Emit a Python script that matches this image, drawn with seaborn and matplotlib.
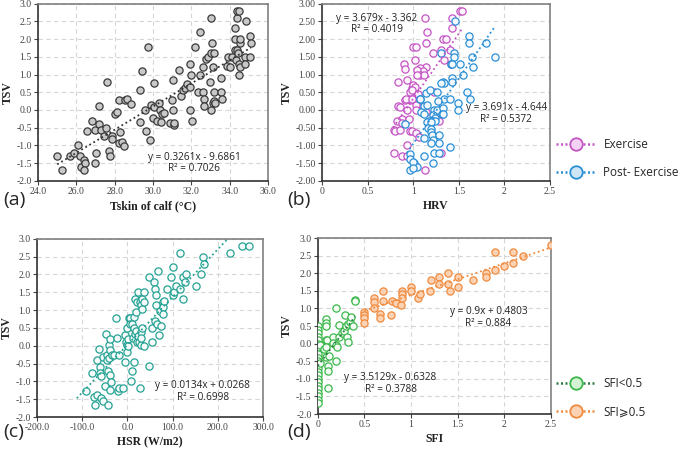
import numpy as np
import pandas as pd
import matplotlib
matplotlib.use("Agg")
import matplotlib.pyplot as plt
from matplotlib.lines import Line2D
import seaborn as sns

sns.set_theme(style="white")
plt.rcParams['font.family'] = ['Liberation Serif', 'DejaVu Serif']

# (a) Tskin of calf vs TSV
a_pts = [(25.0,-1.3),(25.27,-1.7),(25.65,-1.3),(25.9,-1.2),(26.07,-1.0),(26.17,-1.3),(26.26,-1.6),
         (26.4,-1.4),(26.47,-1.5),(26.4,-1.7),(26.55,-0.6),(26.8,-0.3),(26.96,-0.57),(27.0,-1.22),
         (26.96,-1.5),(27.18,0.1),(27.18,-0.4),(27.3,-0.57),(27.43,-0.72),(27.53,-0.5),(27.6,0.8),
         (27.7,-1.15),(27.77,-1.3),(27.86,-0.74),(27.88,-0.83),(28.0,-0.1),(28.1,-0.05),(28.2,0.28),
         (28.2,-0.92),(28.3,-0.63),(28.4,-0.9),(28.47,-1.02),(28.52,0.28),(28.65,0.3),(28.87,0.17),
         (29.3,-0.33),(29.34,0.55),(29.44,1.1),(29.6,0.0),(29.65,-0.6),(29.73,1.78),(29.83,-0.85),
         (29.9,0.14),(30.0,-0.22),(30.07,0.77),(30.07,0.08),(30.2,-0.3),(30.3,0.2),(30.34,0.0),
         (30.43,-0.33),(30.45,-0.1),(30.57,-0.08),(30.9,-0.36),(30.97,0.28),(31.04,0.85),(31.04,0.0),
         (31.07,-0.43),(31.1,-0.38),(31.34,1.14),(31.47,0.4),(31.56,0.57),(31.66,0.62),(31.77,0.72),
         (31.9,0.65),(31.95,1.3),(31.95,0.0),(32.0,1.0),(32.05,-0.3),(32.2,1.78),(32.35,0.5),
         (32.47,2.2),(32.47,1.0),(32.58,1.2),(32.6,0.5),(32.64,0.3),(32.67,0.1),(32.75,1.43),
         (32.87,1.5),(32.96,0.8),(33.0,0.0),(33.0,2.6),(33.04,1.6),(33.08,1.9),(33.13,1.2),(33.13,0.2),
         (33.2,0.5),(33.2,0.25),(33.2,1.6),(33.24,0.2),(33.55,0.9),(33.55,0.5),(33.58,0.3),
         (33.83,1.25),(33.9,1.5),(34.0,1.2),(34.1,1.5),(34.26,2.0),(34.27,2.3),(34.28,1.7),
         (34.33,1.4),(34.36,2.6),(34.4,2.8),(34.4,1.7),(34.43,1.6),(34.47,1.0),(34.5,1.3),(34.5,2.8),
         (34.52,1.2),(34.55,1.9),(34.55,2.0),(34.78,1.5),(34.8,1.3),(34.83,2.5),(35.04,2.1),
         (35.04,1.5),(35.13,1.9)]
a_fit = (0.3261, -9.6861)
a_fit_x = [25.0, 35.1]

# (b) HRV vs TSV
b_exercise = [(1.13,2.6),(1.42,2.6),(1.51,2.8),(1.54,2.8),(1.15,2.2),(1.43,2.3),(1.33,2.0),(1.36,2.0),
              (1.14,1.9),(1.00,1.78),(1.03,1.78),(1.22,1.6),(1.30,1.7),(1.40,1.7),(1.02,1.4),(1.34,1.4),
              (1.41,1.3),(0.90,1.3),(0.91,1.15),(1.14,1.2),(1.08,1.17),(1.11,1.1),(1.04,1.12),(1.07,1.0),
              (1.12,1.0),(1.04,1.0),(0.83,0.8),(0.93,0.85),(0.99,0.63),(1.0,0.7),(1.01,0.56),(1.02,0.65),
              (0.96,0.5),(0.99,0.55),(1.05,0.46),(1.23,0.5),(0.91,0.28),(0.96,0.28),(0.92,0.3),(0.99,0.3),
              (1.04,0.15),(1.03,0.13),(0.83,0.1),(0.85,0.07),(0.93,0.0),(1.03,0.0),(1.12,0.0),(1.14,-0.05),
              (1.23,-0.2),(0.88,-0.25),(0.95,-0.25),(1.28,-0.3),(0.82,-0.3),(0.79,-0.57),(0.80,-0.6),
              (0.88,-0.37),(0.86,-0.57),(0.97,-0.6),(0.99,-0.6),(1.03,-0.65),(1.06,-0.75),(0.93,-1.0),
              (1.31,-1.2),(0.79,-1.2),(0.88,-1.3),(0.93,-1.3),(1.13,-1.7)]
b_post = [(1.455,2.5),(1.61,2.1),(1.61,1.89),(1.80,1.9),(1.90,1.5),(1.65,1.5),(1.66,1.2),(1.45,1.6),
          (1.45,1.5),(1.41,1.3),(1.42,1.3),(1.51,1.31),(1.30,1.6),(1.55,1.0),(1.33,0.8),(1.34,0.77),
          (1.31,0.77),(1.42,0.9),(1.43,0.8),(1.59,0.5),(1.62,0.3),(1.14,0.48),(1.18,0.55),(1.26,0.5),
          (1.34,0.3),(1.40,0.3),(1.27,0.25),(1.08,0.3),(1.49,0.2),(1.12,0.1),(1.15,0.15),(1.23,0.0),
          (1.26,0.0),(1.33,0.05),(1.49,0.0),(1.09,-0.05),(1.12,-0.1),(1.32,-0.1),(1.33,-0.1),(1.22,-0.15),
          (1.24,-0.22),(1.20,-0.3),(1.22,-0.32),(1.24,-0.3),(1.17,-0.3),(1.15,-0.33),(1.19,-0.35),
          (1.16,-0.5),(1.19,-0.55),(0.91,-0.4),(1.20,-0.62),(1.21,-0.7),(1.28,-0.7),(1.22,-0.85),
          (1.28,-0.93),(1.19,-0.93),(1.12,-0.8),(1.40,-1.04),(1.23,-1.2),(1.28,-1.2),(0.97,-1.24),
          (1.12,-1.3),(1.22,-1.5),(1.01,-1.5),(1.04,-1.6),(0.96,-1.39),(1.0,-1.46),(0.97,-1.7),
          (1.0,-1.65),(1.07,0.3)]
b_fit_ex = (3.679, -3.362)
b_fit_ex_x = [0.78, 1.54]
b_fit_post = (3.691, -4.644)
b_fit_post_x = [0.93, 1.89]

# (c) HSR vs TSV
c_pts = [(-92,-1.28),(-79,-0.77),(-74,-1.45),(-72,-1.65),(-67,-0.39),(-67,-1.37),(-63,-0.08),(-61,-0.61),
         (-61,-0.77),(-58,-0.86),(-58,-1.47),(-54,-1.56),(-53,-0.33),(-50,-1.14),(-47,0.33),(-45,-0.27),
         (-45,-0.39),(-43,-1.65),(-43,-0.72),(-41,-0.35),(-41,0.01),(-39,0.2),(-39,-0.11),(-38,-0.83),
         (-36,-1.02),(-39,-1.23),(-33,-0.25),(-30,-0.25),(-26,0.79),(-24,0.21),(-21,-1.26),(-19,-1.19),
         (-19,-0.27),(-10,-1.19),(-6,-0.46),(-6,0.31),(-4,0.1),(-2,0.01),(-2,-0.18),(0,0.51),(1,0.2),
         (1,-0.02),(3,0.79),(6,0.78),(6,0.61),(7,-0.98),(11,-0.72),(11,0.61),(12,0.23),(14,0.82),
         (14,0.51),(14,-0.46),(16,0.33),(16,1.32),(18,0.42),(20,0.94),(21,0.1),(21,1.22),(23,1.5),
         (23,0.26),(26,0.1),(27,-1.19),(27,1.22),(29,1.13),(29,0.38),(31,0.01),(31,0.23),(33,1.32),
         (33,0.51),(33,1.04),(36,-0.02),(36,1.22),(36,1.5),(48,-0.58),(48,1.92),(55,0.51),(55,0.1),
         (58,1.79),(60,0.7),(60,1.6),(64,1.13),(64,1.41),(65,0.61),(68,2.1),(70,0.29),(73,0.98),
         (75,0.56),(78,1.22),(78,1.1),(78,0.89),(80,1.26),(87,1.6),(97,1.92),(101,2.22),(101,1.41),
         (104,1.5),(108,1.69),(116,2.6),(117,1.6),(123,1.32),(123,1.92),(127,1.79),(129,2.01),
         (152,1.69),(163,2.01),(167,2.5),(169,2.29),(226,2.6),(254,2.81),(269,2.81)]
c_fit = (0.0134, 0.0268)
c_fit_x = [-112, 222]

# (d) SFI vs TSV
d_low = [(0,0.5),(0,0.4),(0,0.3),(0,0.2),(0,0.1),(0,0.0),(0,-0.1),(0,-0.3),(0,-0.4),(0,-0.5),(0,-0.6),
         (0,-0.7),(0,-0.8),(0,-0.9),(0,-1.0),(0,-1.1),(0,-1.2),(0,-1.3),(0,-1.4),(0,-1.5),(0,-1.6),
         (0,-1.7),(0.02,-0.05),(0.02,-0.55),(0.09,0.7),(0.09,0.6),(0.09,0.5),(0.09,0.1),(0.1,0.1),
         (0.07,-0.16),(0.09,-0.1),(0.09,-0.39),(0.12,-0.35),(0.11,-0.64),(0.11,-0.77),(0.11,-1.25),
         (0.16,0.18),(0.16,0.03),(0.2,1.0),(0.2,-0.05),(0.21,-0.1),(0.2,-0.5),(0.23,0.53),(0.23,0.2),
         (0.26,0.3),(0.28,0.35),(0.29,0.8),(0.3,0.5),(0.32,0.55),(0.31,0.2),(0.32,0.05),(0.34,0.62),
         (0.38,0.5),(0.4,1.25),(0.4,1.2),(0.36,0.75)]
d_high = [(0.5,0.89),(0.5,0.8),(0.5,0.72),(0.5,0.6),(0.6,1.3),(0.6,1.19),(0.6,1.0),(0.67,0.83),
          (0.67,0.74),(0.7,1.5),(0.7,1.2),(0.78,0.8),(0.8,1.2),(0.84,1.15),(0.89,1.1),(0.9,1.5),
          (0.9,1.4),(0.9,1.3),(1.0,1.6),(1.0,1.5),(1.07,1.3),(1.1,1.4),(1.2,1.5),(1.22,1.8),(1.3,1.9),
          (1.3,1.7),(1.4,2.0),(1.4,1.7),(1.42,1.5),(1.5,1.9),(1.5,1.6),(1.67,1.8),(1.8,2.0),(1.8,1.9),
          (1.9,2.6),(1.9,2.1),(2.0,2.2),(2.1,2.6),(2.1,2.3),(2.2,2.5),(2.5,2.8)]
d_fit_low = (3.5129, -0.6328)
d_fit_low_x = [0.0, 0.4]
d_fit_high = (0.9, 0.4803)
d_fit_high_x = [0.5, 2.5]

MAG, MAG_L = "#c455c4", "#f3d2f3"
BLUE, BLUE_L = "#2b8fd6", "#cfe6f7"
TEAL = "#26a294"
GREEN, GREEN_L = "#3cb84c", "#d4f2d4"
ORANGE, ORANGE_L = "#f08a3e", "#fbd3b4"
ANN_FONT = ['Open Sans', 'DejaVu Sans']


def scatter(ax, pts, face, edge):
    df = pd.DataFrame(pts, columns=["x", "TSV"])
    sns.scatterplot(data=df, x="x", y="TSV", ax=ax, s=27, color=face,
                    edgecolor=edge, linewidth=0.9, zorder=3, legend=False)


def fitline(ax, coef, xs, color):
    xs = np.array(xs, dtype=float)
    ax.plot(xs, coef[0] * xs + coef[1], ls=(0, (1, 1.6)), lw=1.3, color=color, zorder=4)


def note(ax, x, y, lines):
    ax.text(x, y, "\n".join(lines), ha="center", va="center", fontsize=7.2,
            family=ANN_FONT, linespacing=1.05, color="#222222", zorder=5)


def style(ax, xlim, xticks, xlabels, ylabels, xlabel):
    ax.set_xlim(xlim)
    ax.set_ylim(-2, 3)
    ax.set_xticks(xticks)
    ax.set_xticklabels(xlabels)
    ax.set_yticks(np.arange(-2, 3.01, 0.5))
    ax.set_yticklabels(ylabels)
    ax.grid(True, ls=(0, (4, 3)), color="#d6d6d6", lw=0.8)
    ax.set_axisbelow(True)
    for side in ["left", "bottom"]:
        ax.spines[side].set_color("#333333")
        ax.spines[side].set_linewidth(1.2)
    for side in ["top", "right"]:
        ax.spines[side].set_color("#808080")
        ax.spines[side].set_linewidth(1.2)
    ax.tick_params(axis="both", labelsize=7, colors="#444444", length=3, width=0.8,
                   direction="out", bottom=True, left=True, pad=1.5)
    ax.set_xlabel(xlabel, fontsize=8.5, fontweight="bold", labelpad=3, color="#222222")
    ax.set_ylabel("TSV", fontsize=8.5, fontweight="bold", labelpad=2, color="#222222")


y1 = ["%.1f" % v for v in np.arange(-2, 3.01, 0.5)]
y2 = ["%.2f" % v for v in np.arange(-2, 3.01, 0.5)]
sfi_ticks = [0, 0.5, 1, 1.5, 2, 2.5]
sfi_labels = ["0", "0.5", "1", "1.5", "2", "2.5"]

fig = plt.figure(figsize=(6.85, 4.5), dpi=100)
ax_a = fig.add_axes([0.0555, 0.598, 0.336, 0.394])
ax_b = fig.add_axes([0.470, 0.598, 0.333, 0.394])
ax_c = fig.add_axes([0.054, 0.0733, 0.330, 0.396])
ax_d = fig.add_axes([0.464, 0.080, 0.340, 0.391])

# (a)
scatter(ax_a, a_pts, "#c8c8c8", "#3a3a3a")
fitline(ax_a, a_fit, a_fit_x, "#333333")
style(ax_a, (24, 36), np.arange(24, 36.1, 2), ["%.1f" % v for v in np.arange(24, 36.1, 2)], y1,
      "Tskin of calf (°C)")
note(ax_a, 32.15, -1.5, ["y = 0.3261x - 9.6861", "R² = 0.7026"])

# (b)
scatter(ax_b, b_exercise, "#fdf4fd", MAG)
scatter(ax_b, b_post, "#f4f9fd", BLUE)
fitline(ax_b, b_fit_ex, b_fit_ex_x, MAG)
fitline(ax_b, b_fit_post, b_fit_post_x, BLUE)
style(ax_b, (0, 2.5), sfi_ticks, sfi_labels, y2, "HRV")
note(ax_b, 0.6, 2.42, ["y = 3.679x - 3.362", "R² = 0.4019"])
note(ax_b, 2.02, -0.1, ["y = 3.691x - 4.644", "R² = 0.5372"])

# (c)
scatter(ax_c, c_pts, "#f7fcfb", TEAL)
fitline(ax_c, c_fit, c_fit_x, TEAL)
style(ax_c, (-200, 300), np.arange(-200, 301, 100), ["%.1f" % v for v in np.arange(-200, 301, 100)],
      y1, "HSR (W/m2)")
note(ax_c, 167, -1.28, ["y = 0.0134x + 0.0268", "R² = 0.6998"])

# (d)
scatter(ax_d, d_low, "#f6fcf6", GREEN)
scatter(ax_d, d_high, ORANGE_L, ORANGE)
fitline(ax_d, d_fit_low, d_fit_low_x, "#2c7a44")
fitline(ax_d, d_fit_high, d_fit_high_x, ORANGE)
style(ax_d, (0, 2.5), sfi_ticks, sfi_labels, y1, "SFI")
note(ax_d, 1.83, 0.74, ["y = 0.9x + 0.4803", "R² = 0.884"])
note(ax_d, 0.78, -1.13, ["y = 3.5129x - 0.6328", "R² = 0.3788"])

# panel letters
for lab, (x, y) in zip(["(a)", "(b)", "(c)", "(d)"],
                       [(0.005, 0.555), (0.42, 0.555), (0.005, 0.04), (0.42, 0.04)]):
    fig.text(x, y, lab, fontsize=14, family=ANN_FONT, va="center")


def handle(edge, face, line):
    return Line2D([0], [0], color=line, ls=(0, (0.8, 1.0)), lw=1.8, marker="o", markersize=9,
                  markerfacecolor=face, markeredgecolor=edge, markeredgewidth=1.3)


leg_kw = dict(loc="center left", frameon=False, handlelength=3.4, labelspacing=1.3,
              prop={"family": ANN_FONT, "size": 8.5}, handletextpad=0.6,
              borderaxespad=0, borderpad=0)
fig.legend([handle(MAG, MAG_L, MAG), handle(BLUE, BLUE_L, BLUE)], ["Exercise", "Post- Exercise"],
           bbox_to_anchor=(0.812, 0.648), **leg_kw)
fig.legend([handle(GREEN, GREEN_L, "#2c7a44"), handle(ORANGE, ORANGE_L, ORANGE)],
           ["SFI<0.5", "SFI⩾0.5"], bbox_to_anchor=(0.812, 0.116), **leg_kw)

fig.savefig("out.png", dpi=100)
